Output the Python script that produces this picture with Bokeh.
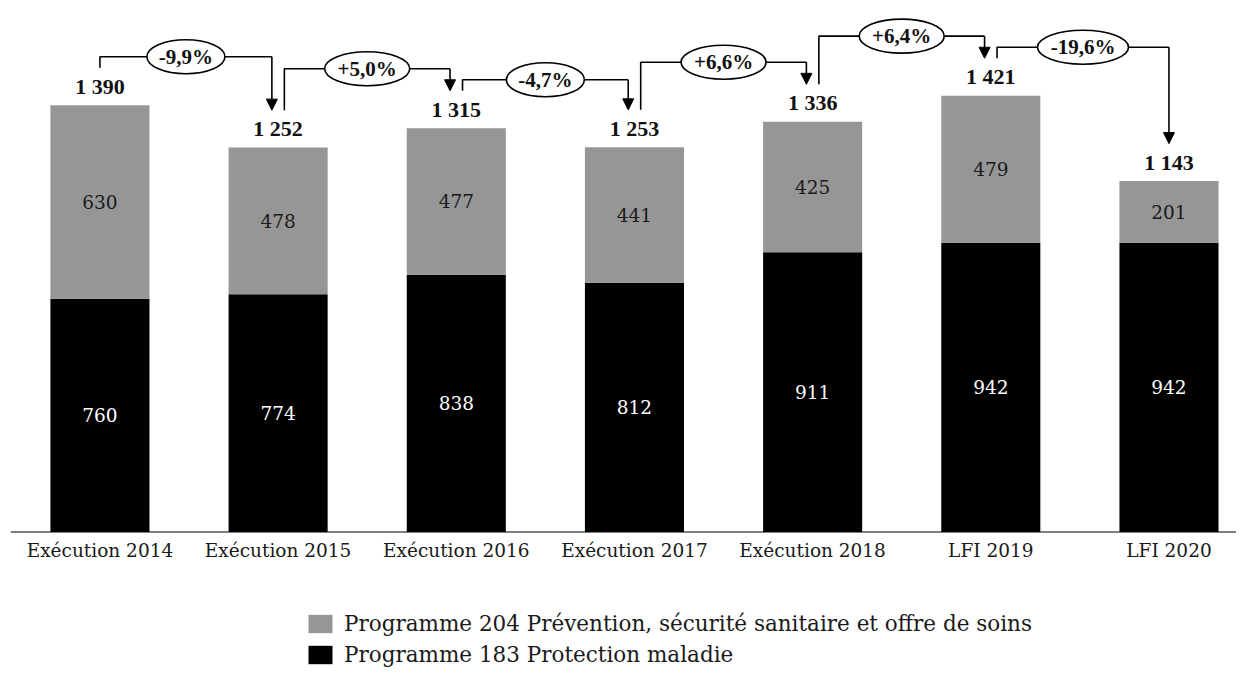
import numpy as np
from bokeh.plotting import figure
from bokeh.models import Range1d, Legend, LegendItem, Arrow, NormalHead, Span
from bokeh.core.properties import value
from bokeh.embed import file_html
from bokeh.resources import INLINE

categories = ["Exécution 2014", "Exécution 2015", "Exécution 2016", "Exécution 2017",
              "Exécution 2018", "LFI 2019", "LFI 2020"]
prog183 = [760, 774, 838, 812, 911, 942, 942]
prog204 = [630, 478, 477, 441, 425, 479, 201]
totals = [1390, 1252, 1315, 1253, 1336, 1421, 1143]
changes = ["-9,9%", "+5,0%", "-4,7%", "+6,6%", "+6,4%", "-19,6%"]
legend_204 = "Programme 204 Prévention, sécurité sanitaire et offre de soins"
legend_183 = "Programme 183 Protection maladie"

FONT = "DejaVu Serif"
BFONT = "Liberation Serif"
GREY = "#969696"
TXT = "#1a1a1a"

xs = np.arange(len(categories))
p183 = np.array(prog183)
p204 = np.array(prog204)
tot = np.array(totals)
tot_labels = ["{:,}".format(t).replace(",", " ") for t in totals]

p = figure(width=1236, height=667, x_range=Range1d(-0.502, 6.379), y_range=Range1d(-441.3, 1705),
           output_backend="svg", toolbar_location=None, x_axis_location=None, y_axis_location=None,
           min_border_left=10, min_border_right=0, min_border_top=8, min_border_bottom=0)
p.grid.visible = False
p.outline_line_color = None
p.background_fill_color = "white"

bw = 0.556
r183 = p.vbar(x=xs, bottom=0, top=p183, width=bw, fill_color="black", line_color=None)
r204 = p.vbar(x=xs, bottom=p183, top=tot, width=bw, fill_color=GREY, line_color=None)

# baseline (category axis)
p.add_layout(Span(location=0, dimension="width", line_color="black", line_width=1.2))
p.text(x=xs, y=np.zeros(len(xs)), text=categories, text_align="center", text_baseline="middle", y_offset=18,
       text_color=TXT, text_font=value(FONT), text_font_size="18.5px")

# values inside bars
p.text(x=xs, y=p183 / 2, text=[str(v) for v in prog183], text_align="center", text_baseline="middle",
       text_color="white", text_font=value(FONT), text_font_size="18.5px")
p.text(x=xs, y=p183 + p204 / 2, text=[str(v) for v in prog204], text_align="center", text_baseline="middle",
       text_color=TXT, text_font=value(FONT), text_font_size="18.5px")
# totals
p.text(x=xs, y=tot, text=tot_labels, text_align="center", text_baseline="middle", y_offset=-19,
       text_color="#111111", text_font=value(BFONT), text_font_size="22px", text_font_style="bold")

# variation brackets
gap = 122      # data units above total for bracket ends
head = 36      # arrow head length in data units
off = 0.035
mids, hs, widths = [], [], []
lx, ly = [], []
for i in range(len(changes)):
    x0 = xs[i] + (off if i > 0 else 0)
    x1 = xs[i + 1] - (off if i + 1 < len(categories) - 1 else 0)
    y0 = totals[i] + gap
    y1 = totals[i + 1] + gap
    h = max(y0, y1 + head) + 36
    lx.append([x0, x0, x1])
    ly.append([y0, h, h])
    p.add_layout(Arrow(x_start=x1, y_start=h, x_end=x1, y_end=y1, line_color="black", line_width=1.6,
                       end=NormalHead(size=11, fill_color="black", line_color="black", line_width=1)))
    mids.append((x0 + x1) / 2)
    hs.append(h)
    s = changes[i]
    widths.append(13 * len(s) + 13 + (7 if s.startswith("+") else 0))

p.multi_line(xs=lx, ys=ly, line_color="black", line_width=1.6)
p.ellipse(x=mids, y=hs, width=widths, height=34, width_units="screen", height_units="screen",
          fill_color="white", line_color="black", line_width=1.6)
p.text(x=mids, y=hs, text=changes, text_align="center", text_baseline="middle",
       text_color="#111111", text_font=value(BFONT), text_font_size="21px", text_font_style="bold")

legend = Legend(items=[LegendItem(label=legend_204, renderers=[r204]),
                       LegendItem(label=legend_183, renderers=[r183])],
                orientation="vertical", location=(295, 0),
                border_line_color=None, background_fill_alpha=0,
                glyph_width=30, glyph_height=23, label_height=23, label_standoff=9, spacing=6,
                padding=0, margin=0,
                label_text_font=FONT, label_text_font_size="21.5px", label_text_color=TXT)
p.add_layout(legend, "center")

open("out.html", "w").write(file_html(p, INLINE))
